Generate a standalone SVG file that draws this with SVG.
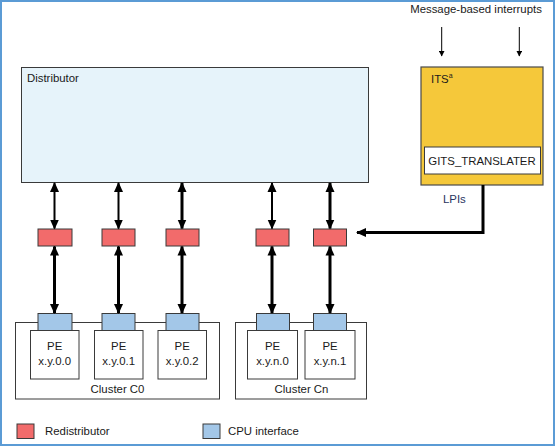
<svg xmlns="http://www.w3.org/2000/svg" width="556" height="447" viewBox="0 0 556 447">
<defs>
<style>
text{font-family:"Liberation Sans",Arial,sans-serif;font-size:11.4px;fill:#1a1a1a}
.c{text-anchor:middle}
.redi{fill:#f26b6b;stroke:#3a3a3a;stroke-width:1}
.cpu{fill:#a3c7e8;stroke:#3a3a3a;stroke-width:1}
.pe{fill:#ffffff;stroke:#3a3a3a;stroke-width:1}
.cl{fill:#ffffff;stroke:#3a3a3a;stroke-width:1}
.a1{stroke:#000;stroke-width:2;fill:none}
.a2{stroke:#000;stroke-width:3;fill:none}
.thin{stroke:#000;stroke-width:1;fill:none}
</style>
<marker id="ah" viewBox="0 0 10 10" refX="9" refY="5" markerUnits="userSpaceOnUse" markerWidth="10" markerHeight="10" orient="auto-start-reverse">
<path d="M0,0.5 L10,5 L0,9.5 z" fill="#000"/>
</marker>
<marker id="ahs" viewBox="0 0 10 10" refX="9" refY="5" markerUnits="userSpaceOnUse" markerWidth="6" markerHeight="6" orient="auto">
<path d="M0,0 L10,5 L0,10 z" fill="#000"/>
</marker>
</defs>
<rect x="1" y="1" width="553" height="444" fill="#ffffff" stroke="#5b9bd5" stroke-width="2"/>
<text class="c" x="476" y="13">Message-based interrupts</text>
<g id="distributor">
<rect x="21.5" y="67.5" width="347" height="115" fill="#e6f3fa" stroke="#3a3a3a" stroke-width="1"/>
<text x="27" y="82">Distributor</text>
</g>
<g id="its">
<rect x="421" y="67" width="122" height="118" fill="#f5c83a" stroke="#4a4a4a" stroke-width="1.2"/>
<text x="431" y="83">ITS<tspan font-size="7" dy="-5">a</tspan></text>
<rect x="424.5" y="147" width="116" height="27" fill="#ffffff" stroke="#3a3a3a" stroke-width="1"/>
<text class="c" x="482" y="164.5">GITS_TRANSLATER</text>
</g>
<text x="443" y="203" style="fill:#2a3560">LPIs</text>
<g id="redistributors">
<rect class="redi" x="38" y="229" width="34" height="17"/>
<rect class="redi" x="102" y="229" width="33" height="17"/>
<rect class="redi" x="166" y="229" width="33" height="17"/>
<rect class="redi" x="256" y="229" width="33" height="17"/>
<rect class="redi" x="313.5" y="229" width="33" height="17"/>
</g>
<g id="cluster-c0">
<rect class="cl" x="15.5" y="322.5" width="204" height="76.5"/>
<rect class="cpu" x="38" y="313.5" width="34" height="17"/>
<rect class="cpu" x="102" y="313.5" width="33" height="17"/>
<rect class="cpu" x="166" y="313.5" width="33" height="17"/>
<rect class="pe" x="30.5" y="330.5" width="48.5" height="48.5"/>
<rect class="pe" x="94.5" y="330.5" width="48.5" height="48.5"/>
<rect class="pe" x="158" y="330.5" width="48.5" height="48.5"/>
<text class="c" x="54.7" y="350">PE</text>
<text class="c" x="54.7" y="365">x.y.0.0</text>
<text class="c" x="118.7" y="350">PE</text>
<text class="c" x="118.7" y="365">x.y.0.1</text>
<text class="c" x="182.2" y="350">PE</text>
<text class="c" x="182.2" y="365">x.y.0.2</text>
<text class="c" x="117.5" y="392.5">Cluster C0</text>
</g>
<g id="cluster-cn">
<rect class="cl" x="235.5" y="322.5" width="131" height="76.5"/>
<rect class="cpu" x="256.5" y="313.5" width="33" height="17"/>
<rect class="cpu" x="313.5" y="313.5" width="33" height="17"/>
<rect class="pe" x="247.5" y="330.5" width="50" height="48.5"/>
<rect class="pe" x="305" y="330.5" width="50" height="48.5"/>
<text class="c" x="272.5" y="350">PE</text>
<text class="c" x="272.5" y="365">x.y.n.0</text>
<text class="c" x="330" y="350">PE</text>
<text class="c" x="330" y="365">x.y.n.1</text>
<text class="c" x="301.5" y="392.5">Cluster Cn</text>
</g>
<g id="connectors">
<line class="thin" x1="441.7" y1="27" x2="441.7" y2="56" marker-end="url(#ahs)"/>
<line class="thin" x1="519.3" y1="27" x2="519.3" y2="56" marker-end="url(#ahs)"/>
<line class="a1" x1="54.5" y1="183" x2="54.5" y2="228.5" marker-start="url(#ah)" marker-end="url(#ah)"/>
<line class="a1" x1="118.5" y1="183" x2="118.5" y2="228.5" marker-start="url(#ah)" marker-end="url(#ah)"/>
<line class="a2" x1="182" y1="183" x2="182" y2="228.5" marker-start="url(#ah)" marker-end="url(#ah)"/>
<line class="a1" x1="272" y1="183" x2="272" y2="228.5" marker-start="url(#ah)" marker-end="url(#ah)"/>
<line class="a2" x1="330" y1="183" x2="330" y2="228.5" marker-start="url(#ah)" marker-end="url(#ah)"/>
<line class="a2" x1="54.5" y1="246.5" x2="54.5" y2="313" marker-start="url(#ah)" marker-end="url(#ah)"/>
<line class="a2" x1="118.5" y1="246.5" x2="118.5" y2="313" marker-start="url(#ah)" marker-end="url(#ah)"/>
<line class="a2" x1="182" y1="246.5" x2="182" y2="313" marker-start="url(#ah)" marker-end="url(#ah)"/>
<line class="a2" x1="272" y1="246.5" x2="272" y2="313" marker-start="url(#ah)" marker-end="url(#ah)"/>
<line class="a2" x1="330" y1="246.5" x2="330" y2="313" marker-start="url(#ah)" marker-end="url(#ah)"/>
<path class="a2" d="M483,185 V232.5 H357" marker-end="url(#ah)"/>
</g>
<g id="legend">
<rect class="redi" x="17" y="424" width="17" height="14.5"/>
<text x="45" y="434.5">Redistributor</text>
<rect class="cpu" x="203" y="424" width="17" height="14.5"/>
<text x="228" y="434.5">CPU interface</text>
</g>
</svg>
